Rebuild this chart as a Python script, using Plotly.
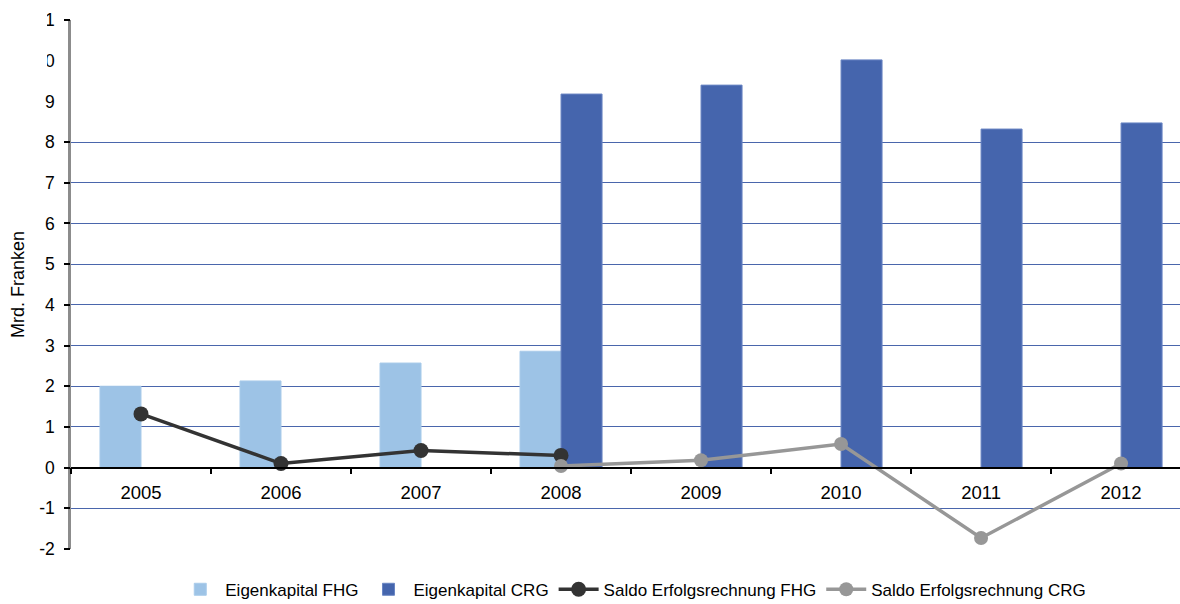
import plotly.graph_objects as go

# Jahre und Werte (Mrd. Franken)
jahre = ["2005", "2006", "2007", "2008", "2009", "2010", "2011", "2012"]
eigenkapital_fhg = [2.00, 2.13, 2.57, 2.86, None, None, None, None]
eigenkapital_crg = [None, None, None, 9.18, 9.40, 10.02, 8.32, 8.47]
saldo_fhg = [1.32, 0.10, 0.42, 0.30, None, None, None, None]
saldo_crg = [None, None, None, 0.04, 0.18, 0.58, -1.73, 0.10]

y_ticks = list(range(-2, 12))
grid_ticks = [-2, -1, 0, 1, 2, 3, 4, 5, 6, 7, 8, 11]

FONT = "Liberation Sans, Arial, sans-serif"

fig = go.Figure()

fig.add_trace(go.Bar(
    x=jahre, y=eigenkapital_fhg, name="Eigenkapital FHG",
    marker=dict(color="#9dc3e6", line=dict(color="#a9cbea", width=1)),
))
fig.add_trace(go.Bar(
    x=jahre, y=eigenkapital_crg, name="Eigenkapital CRG",
    marker=dict(color="#4565ad", line=dict(color="#6a86c4", width=1)),
))
fig.add_trace(go.Scatter(
    x=jahre, y=saldo_fhg, name="Saldo Erfolgsrechnung FHG", yaxis="y2",
    mode="lines+markers", line=dict(color="#333333", width=3.5),
    marker=dict(color="#333333", size=15),
))
fig.add_trace(go.Scatter(
    x=jahre, y=saldo_crg, name="Saldo Erfolgsrechnung CRG", yaxis="y2",
    mode="lines+markers", line=dict(color="#979797", width=3.5),
    marker=dict(color="#979797", size=14),
))

fig.update_layout(
    width=1180, height=604,
    margin=dict(l=71, r=0, t=20, b=55, autoexpand=False),
    paper_bgcolor="white", plot_bgcolor="white",
    font=dict(family=FONT, size=17, color="#000000"),
    barmode="group", bargap=0.414, bargroupgap=0,
    showlegend=True,
    legend=dict(
        orientation="h", x=0.507, xanchor="center", y=-0.111, yanchor="bottom",
        font=dict(family=FONT, size=17, color="#000000"),
        itemwidth=40, tracegroupgap=0,
    ),
    xaxis=dict(
        type="category", range=[-0.5, 7.421],
        anchor="free", position=0.154,
        showline=True, linecolor="#000000", linewidth=1.5,
        ticks="outside", ticklen=6, tickcolor="#000000", tickwidth=1.5,
        tickson="boundaries", showgrid=False, zeroline=False,
        ticklabelstandoff=9,
        tickfont=dict(family=FONT, size=18.5),
    ),
    yaxis=dict(
        range=[-2, 11], tickvals=y_ticks, ticktext=[str(v) for v in y_ticks],
        showgrid=False, zeroline=False,
        showline=True, linecolor="#8c8c8c", linewidth=2.5,
        ticks="outside", ticklen=6, tickcolor="rgba(0,0,0,0)",
        ticklabelstandoff=4,
        tickfont=dict(family=FONT, size=17.5),
        title=dict(text="Mrd. Franken", standoff=6,
                   font=dict(family=FONT, size=18)),
    ),
    yaxis2=dict(
        range=[-2, 11], overlaying="y", side="left",
        tickvals=grid_ticks, showticklabels=False,
        showgrid=True, gridcolor="#4a66ac", gridwidth=1.2,
        zeroline=False, showline=False,
        ticks="outside", ticklen=6, tickcolor="#000000", tickwidth=1.5,
    ),
    shapes=[dict(
        type="rect", xref="paper", yref="paper",
        x0=-0.07, x1=-0.0216, y0=0.895, y1=1.04,
        fillcolor="white", line=dict(width=0), layer="above",
    )],
)

fig.write_html("out.html")
